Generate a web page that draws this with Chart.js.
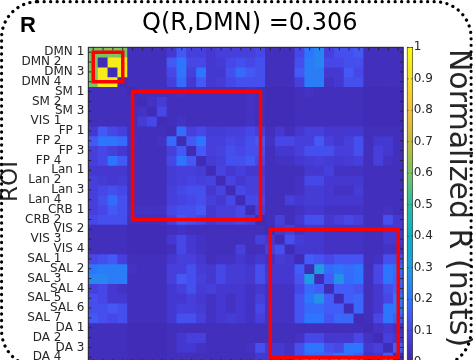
<!DOCTYPE html>
<html>
<head>
<meta charset="utf-8">
<script src="https://cdn.jsdelivr.net/npm/chart.js@4.4.1/dist/chart.umd.min.js"></script>
<style>
  html, body { margin: 0; padding: 0; background: #fff; overflow: hidden; }
  canvas { display: block; }
</style>
</head>
<body>
<canvas id="rChart" width="473" height="364"></canvas>
<script>
// ROI names, one per row / column of the matrix
const roiLabels = [
  'DMN 1', 'DMN 2', 'DMN 3', 'DMN 4', 'SM 1', 'SM 2', 'SM 3', 'VIS 1',
  'FP 1', 'FP 2', 'FP 3', 'FP 4', 'Lan 1', 'Lan 2', 'Lan 3', 'Lan 4',
  'CRB 1', 'CRB 2', 'VIS 2', 'VIS 3', 'VIS 4', 'SAL 1', 'SAL 2', 'SAL 3',
  'SAL 4', 'SAL 5', 'SAL 6', 'SAL 7', 'DA 1', 'DA 2', 'DA 3', 'DA 4'
];

// normalized R (nats), row by row
const normR = [
  [.60, .60, .62, .60, .03, .03, .03, .03, .06, .14, .08, .08, .06, .08, .08, .08, .08, .10, .03, .03, .03, .10, .20, .24, .08, .12, .12, .14, .03, .03, .03, .03],
  [.60, .02, .95, .95, .03, .03, .03, .03, .14, .20, .10, .10, .06, .07, .10, .12, .10, .12, .03, .03, .03, .12, .22, .24, .10, .10, .12, .12, .03, .03, .03, .03],
  [.62, .95, .02, .95, .03, .03, .03, .03, .10, .20, .08, .20, .06, .06, .12, .18, .14, .12, .03, .03, .03, .14, .22, .22, .06, .06, .14, .10, .03, .03, .03, .03],
  [.60, .95, .95, .02, .03, .03, .03, .03, .08, .18, .06, .14, .06, .07, .10, .12, .12, .12, .03, .03, .03, .08, .22, .22, .04, .06, .12, .12, .03, .03, .03, .03],
  [.03, .03, .03, .03, .02, .03, .03, .03, .03, .04, .03, .03, .03, .03, .03, .03, .04, .03, .02, .02, .02, .03, .04, .03, .03, .03, .03, .03, .02, .02, .02, .02],
  [.03, .03, .03, .03, .03, .02, .04, .07, .03, .03, .03, .03, .03, .03, .03, .03, .04, .03, .02, .02, .02, .03, .03, .03, .03, .03, .03, .03, .02, .02, .02, .02],
  [.03, .03, .03, .03, .03, .04, .02, .10, .03, .03, .03, .03, .03, .03, .03, .03, .04, .03, .02, .02, .02, .03, .03, .03, .03, .03, .03, .03, .02, .02, .02, .02],
  [.03, .03, .03, .03, .03, .07, .10, .02, .03, .04, .03, .03, .03, .03, .03, .03, .04, .03, .02, .02, .02, .03, .03, .03, .03, .03, .03, .03, .02, .02, .02, .02],
  [.06, .14, .10, .08, .03, .03, .03, .03, .02, .18, .08, .10, .07, .07, .08, .08, .10, .08, .03, .06, .03, .06, .08, .08, .06, .06, .06, .06, .03, .03, .03, .03],
  [.14, .20, .20, .18, .04, .03, .03, .04, .18, .02, .14, .20, .08, .08, .10, .09, .12, .14, .04, .10, .10, .08, .08, .14, .08, .06, .08, .12, .03, .06, .06, .03],
  [.08, .10, .08, .06, .03, .03, .03, .03, .08, .14, .02, .14, .08, .09, .12, .10, .12, .12, .03, .06, .06, .08, .12, .12, .12, .08, .08, .12, .03, .08, .06, .03],
  [.08, .10, .20, .14, .03, .03, .03, .03, .10, .20, .14, .02, .07, .08, .12, .12, .14, .10, .03, .04, .04, .06, .07, .08, .07, .06, .07, .08, .03, .08, .04, .03],
  [.06, .06, .06, .06, .03, .03, .03, .03, .07, .08, .08, .07, .02, .09, .06, .08, .06, .06, .03, .03, .03, .03, .06, .06, .08, .04, .04, .04, .03, .03, .03, .03],
  [.08, .07, .06, .07, .03, .03, .03, .03, .07, .08, .09, .08, .09, .02, .09, .06, .08, .08, .03, .03, .03, .04, .10, .10, .06, .06, .06, .06, .03, .03, .03, .03],
  [.08, .10, .12, .10, .03, .03, .03, .03, .08, .10, .12, .12, .06, .09, .02, .10, .08, .08, .03, .03, .03, .04, .07, .07, .06, .04, .04, .07, .03, .03, .03, .03],
  [.08, .12, .18, .12, .03, .03, .03, .03, .08, .09, .10, .12, .08, .06, .10, .02, .10, .10, .03, .03, .08, .06, .07, .07, .06, .06, .06, .06, .03, .03, .03, .03],
  [.08, .10, .14, .12, .04, .04, .04, .04, .10, .12, .12, .14, .06, .08, .08, .10, .02, .08, .03, .03, .03, .04, .06, .06, .04, .04, .04, .04, .03, .03, .04, .03],
  [.10, .12, .12, .12, .03, .03, .03, .03, .08, .14, .12, .10, .06, .08, .08, .10, .08, .02, .03, .08, .03, .06, .12, .12, .06, .08, .10, .08, .03, .03, .12, .06],
  [.03, .03, .03, .03, .02, .02, .02, .02, .03, .04, .03, .03, .03, .03, .03, .03, .03, .03, .02, .06, .08, .04, .06, .06, .04, .04, .04, .04, .03, .03, .06, .06],
  [.03, .03, .03, .03, .02, .02, .02, .02, .06, .10, .06, .04, .03, .03, .03, .03, .03, .08, .06, .02, .12, .07, .06, .06, .04, .04, .04, .04, .03, .03, .06, .06],
  [.03, .03, .03, .03, .02, .02, .02, .02, .03, .10, .06, .04, .03, .03, .03, .08, .03, .03, .08, .12, .02, .06, .06, .06, .04, .04, .04, .04, .03, .03, .04, .04],
  [.10, .12, .14, .08, .03, .03, .03, .03, .06, .08, .08, .06, .03, .04, .04, .06, .04, .06, .04, .07, .06, .02, .15, .13, .10, .13, .13, .13, .03, .04, .12, .12],
  [.20, .22, .22, .22, .04, .03, .03, .03, .08, .08, .12, .07, .06, .10, .07, .07, .06, .12, .06, .06, .06, .15, .02, .30, .18, .20, .18, .20, .03, .10, .20, .18],
  [.24, .24, .22, .22, .03, .03, .03, .03, .08, .14, .12, .08, .06, .10, .07, .07, .06, .12, .06, .06, .06, .13, .30, .02, .15, .27, .18, .20, .03, .10, .20, .16],
  [.08, .10, .06, .04, .03, .03, .03, .03, .06, .08, .12, .07, .08, .06, .06, .06, .04, .06, .04, .04, .04, .10, .18, .15, .02, .15, .15, .13, .03, .06, .12, .15],
  [.12, .10, .06, .06, .03, .03, .03, .03, .06, .06, .08, .06, .04, .06, .04, .06, .04, .08, .04, .04, .04, .13, .20, .27, .15, .02, .15, .17, .03, .06, .10, .20],
  [.12, .12, .14, .12, .03, .03, .03, .03, .06, .08, .08, .07, .04, .06, .04, .06, .04, .10, .04, .04, .04, .13, .18, .18, .15, .15, .02, .17, .03, .06, .20, .20],
  [.14, .12, .10, .12, .03, .03, .03, .03, .06, .12, .12, .08, .04, .06, .07, .06, .04, .08, .04, .04, .04, .13, .20, .20, .13, .17, .17, .02, .03, .10, .20, .15],
  [.03, .03, .03, .03, .02, .02, .02, .02, .03, .03, .03, .03, .03, .03, .03, .03, .03, .03, .03, .03, .03, .03, .03, .03, .03, .03, .03, .03, .02, .04, .06, .04],
  [.03, .03, .03, .03, .02, .02, .02, .02, .03, .06, .08, .08, .03, .03, .03, .03, .03, .03, .03, .03, .03, .04, .10, .10, .06, .06, .06, .10, .04, .02, .08, .06],
  [.03, .03, .03, .03, .02, .02, .02, .02, .03, .06, .06, .04, .03, .03, .03, .03, .04, .12, .06, .06, .04, .12, .20, .20, .12, .10, .20, .20, .06, .08, .02, .15],
  [.03, .03, .03, .03, .02, .02, .02, .02, .03, .03, .03, .03, .03, .03, .03, .03, .03, .06, .06, .06, .04, .12, .18, .16, .15, .20, .20, .15, .04, .06, .15, .02]
];

// red boxes: first and last ROI of each module
const modules = [['DMN 1', 'DMN 4'], ['SM 1', 'CRB 2'], ['VIS 2', 'DA 4']];
const titleText = 'Q(R,DMN) =0.306';
const yTitle = 'ROI';
const cbTitle = 'Normalized R (nats)';

// parula colormap
const parulaStops = [
  [0.00, [62, 38, 168]], [0.05, [68, 53, 202]], [0.10, [71, 70, 230]],
  [0.15, [66, 92, 249]], [0.20, [45, 117, 252]], [0.25, [38, 138, 238]],
  [0.30, [30, 155, 225]], [0.40, [10, 178, 195]], [0.50, [40, 190, 158]],
  [0.60, [120, 196, 100]], [0.70, [196, 188, 60]], [0.80, [250, 188, 60]],
  [0.90, [245, 222, 40]], [1.00, [249, 251, 14]]
];
function parula(v) {
  v = Math.max(0, Math.min(1, v));
  for (let i = 1; i < parulaStops.length; i++) {
    const [v1, c1] = parulaStops[i];
    const [v0, c0] = parulaStops[i - 1];
    if (v <= v1) {
      const t = (v - v0) / (v1 - v0);
      const c = c0.map((a, k) => Math.round(a + (c1[k] - a) * t));
      return `rgb(${c[0]},${c[1]},${c[2]})`;
    }
  }
  return 'rgb(249,251,14)';
}

const axisColor = '#262626';
const font = 'DejaVu Sans';

// one floating-bar dataset per row, each bar is one cell
const datasets = normR.map((row, r) => ({
  label: roiLabels[r],
  data: row.map(() => [r, r + 1]),
  backgroundColor: row.map(parula),
  borderWidth: 0,
  inflateAmount: 0.4,
  barPercentage: 1,
  categoryPercentage: 1,
  grouped: false,
  yAxisID: 'y'
}));

function rotatedText(ctx, text, x, y, angle, size) {
  ctx.save();
  ctx.translate(x, y);
  ctx.rotate(angle);
  ctx.font = `${size}px "${font}"`;
  ctx.textAlign = 'center';
  ctx.textBaseline = 'middle';
  ctx.fillText(text, 0, 0);
  ctx.restore();
}

const decor = {
  id: 'decor',
  beforeDatasetsDraw(chart) {
    const {ctx, chartArea: a} = chart;
    ctx.save();
    ctx.fillStyle = parula(0.03);
    ctx.fillRect(a.left, a.top, a.right - a.left, a.bottom - a.top);
    ctx.restore();
  },
  afterDatasetsDraw(chart) {
    const {ctx, chartArea: a, scales: {x, y, cb}} = chart;
    ctx.save();

    // module boxes
    ctx.strokeStyle = '#ff0000';
    ctx.lineWidth = 3.5;
    modules.forEach(([first, last]) => {
      const i = roiLabels.indexOf(first), j = roiLabels.indexOf(last);
      const x0 = x.getPixelForValue(i), x1 = x.getPixelForValue(j);
      const y0 = y.getPixelForValue(i + 0.5), y1 = y.getPixelForValue(j + 0.5);
      ctx.strokeRect(x0, y0, x1 - x0, y1 - y0);
    });

    // axes box with inward ticks
    ctx.strokeStyle = axisColor;
    ctx.lineWidth = 1;
    ctx.strokeRect(a.left, a.top, a.right - a.left, a.bottom - a.top);
    ctx.beginPath();
    roiLabels.forEach((l, i) => {
      const px = x.getPixelForValue(i);
      const py = y.getPixelForValue(i + 0.5);
      ctx.moveTo(px, a.top); ctx.lineTo(px, a.top + 3);
      ctx.moveTo(px, a.bottom); ctx.lineTo(px, a.bottom - 3);
      ctx.moveTo(a.left, py); ctx.lineTo(a.left + 3, py);
      ctx.moveTo(a.right, py); ctx.lineTo(a.right - 3, py);
    });
    ctx.stroke();

    // colorbar
    const cbL = a.right + 4, cbR = a.right + 9.5;
    const top = cb.getPixelForValue(1), bot = cb.getPixelForValue(0);
    const grad = ctx.createLinearGradient(0, bot, 0, top);
    parulaStops.forEach(([v, c]) => grad.addColorStop(v, `rgb(${c[0]},${c[1]},${c[2]})`));
    ctx.fillStyle = grad;
    ctx.fillRect(cbL, top, cbR - cbL, bot - top);
    ctx.strokeStyle = axisColor;
    ctx.lineWidth = 0.6;
    ctx.strokeRect(cbL, top, cbR - cbL, bot - top);
    ctx.beginPath();
    cb.ticks.forEach(t => {
      const py = cb.getPixelForValue(t.value);
      ctx.moveTo(cbL, py); ctx.lineTo(cbL + 1.5, py);
      ctx.moveTo(cbR, py); ctx.lineTo(cbR - 1.5, py);
    });
    ctx.stroke();
    ctx.restore();
  },
  afterDraw(chart) {
    const {ctx, chartArea: a} = chart;
    ctx.save();
    ctx.fillStyle = '#000';
    ctx.textAlign = 'center';
    ctx.textBaseline = 'alphabetic';
    ctx.font = `24px "${font}"`;
    ctx.fillText(titleText, (a.left + a.right) / 2 + 4, 30);

    ctx.textAlign = 'left';
    ctx.font = 'bold 22px "Liberation Sans"';
    ctx.fillText('R', 20, 31.5);

    // axis and colorbar titles
    ctx.fillStyle = axisColor;
    rotatedText(ctx, yTitle, 11.5, 181.5, -Math.PI / 2, 23);
    rotatedText(ctx, cbTitle, 457.5, 198, Math.PI / 2, 30);

    // dotted frame of the panel
    ctx.strokeStyle = '#000';
    ctx.lineWidth = 3.2;
    ctx.lineCap = 'round';
    ctx.setLineDash([0.1, 6.4]);
    ctx.beginPath();
    ctx.roundRect(1.6, 1.7, 469.5, 365, 36);
    ctx.stroke();
    ctx.restore();
  }
};

// keep tick labels from shrinking the plot area
function fixWidth(w) {
  return axis => { axis.width = w; axis.paddingTop = 0; axis.paddingBottom = 0; };
}

new Chart(document.getElementById('rChart'), {
  type: 'bar',
  data: { labels: roiLabels, datasets },
  options: {
    responsive: false,
    animation: false,
    layout: { padding: { left: 0, top: 47.3, right: 0, bottom: 1.8 } },
    plugins: { legend: { display: false }, title: { display: false }, tooltip: { enabled: false } },
    scales: {
      x: { type: 'category', display: false, offset: true, grid: { display: false } },
      y: {
        type: 'linear', min: 0, max: 32, reverse: true,
        afterBuildTicks: axis => { axis.ticks = roiLabels.map((l, i) => ({ value: i + 0.5 })); },
        afterFit: fixWidth(88.3),
        grid: { display: false, drawTicks: false },
        border: { display: false },
        ticks: {
          autoSkip: false, padding: 4, color: axisColor,
          font: { family: font, size: 12 },
          // every other label sits further left
          callback: (v, i) => (i % 2 ? roiLabels[i] + '      ' : roiLabels[i])
        }
      },
      cb: {
        type: 'linear', position: 'right', min: 0, max: 1,
        afterFit: fixWidth(69.8),
        grid: { display: false, drawTicks: false },
        border: { display: false },
        ticks: {
          stepSize: 0.1, padding: 10.5, color: axisColor,
          font: { family: font, size: 12 },
          callback: v => String(+v.toFixed(1))
        }
      }
    }
  },
  plugins: [decor]
});
</script>
</body>
</html>
